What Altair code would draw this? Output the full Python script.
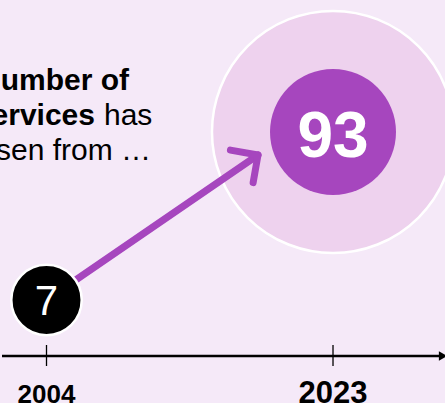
import altair as alt
import pandas as pd

# ---- data ----
years = [2004, 2023]
values = [7, 93]
value_labels = ["7", "93"]
year_labels = ["2004", "2023"]

heading_bold_1 = "The number of"
heading_bold_2 = "services"
heading_normal_2 = "has"
heading_normal_3 = "risen from \u2026"

df = pd.DataFrame({"year": years, "value": values,
                   "vlabel": value_labels, "ylabel": year_labels})
one = pd.DataFrame({"k": [0]})

BG = "#f5e9f8"
PURPLE = "#a646be"
HALO = "#eed2ee"
FONT = "Liberation Sans"
HFS = 30

xs = alt.Scale(domain=[2000.916, 2030.427], nice=False, zero=False)
ys = alt.Scale(domain=[-45.73, 160.57], nice=False, zero=False)
X = alt.X("year:Q", scale=xs, axis=None)
Y = alt.Y("value:Q", scale=ys, axis=None)

base = alt.Chart(df)
deco = alt.Chart(one)

halo = base.transform_filter("datum.year == 2023").mark_circle(
    size=58600, color=HALO, opacity=1, stroke="white", strokeWidth=2.5
).encode(x=X, y=Y)

axis_line = deco.mark_rule(color="black", strokeWidth=2.5).encode(
    x=alt.value(2), x2=alt.value(440), y=alt.value(356))
axis_head = deco.mark_point(shape="triangle-right", filled=True, color="black",
                            size=90, opacity=1).encode(
    x=alt.value(443), y=alt.value(356))

ticks = base.mark_rule(color="black", strokeWidth=1.3).encode(
    x=X, y=alt.value(345), y2=alt.value(366))

year_text = base.mark_text(font=FONT, fontWeight="bold", color="black",
                           align="center", baseline="alphabetic").encode(
    x=X, y=alt.value(402.5), text="ylabel:N",
    size=alt.Size("year:O", scale=alt.Scale(domain=[2004, 2023], range=[26, 31]),
                  legend=None))

arrow_line = base.transform_filter("datum.year == 2004").mark_rule(
    color=PURPLE, strokeWidth=7, strokeCap="round").encode(
    x=X, y=Y, x2=alt.value(258), y2=alt.value(155))
arrow_head = deco.mark_point(shape="M-1,-1L0,0L-1,1", filled=False, color=PURPLE,
                             strokeWidth=7, strokeCap="round", strokeJoin="round",
                             angle=325, size=1570, opacity=1).encode(
    x=alt.value(258), y=alt.value(155))

c7 = base.transform_filter("datum.year == 2004").mark_circle(
    size=4960, color="black", opacity=1, stroke="white", strokeWidth=2.5
).encode(x=X, y=Y)
c93 = base.transform_filter("datum.year == 2023").mark_circle(
    size=15876, color=PURPLE, opacity=1).encode(x=X, y=Y)

t7 = base.transform_filter("datum.year == 2004").mark_text(
    font=FONT, fontSize=42, color="white", align="center",
    baseline="alphabetic", dy=15).encode(x=X, y=Y, text="vlabel:N")
t93 = base.transform_filter("datum.year == 2023").mark_text(
    font=FONT, fontSize=64, fontWeight="bold", color="white", align="center",
    baseline="alphabetic", dy=25).encode(x=X, y=Y, text="vlabel:N")

h1 = deco.mark_text(font=FONT, fontSize=HFS, fontWeight="bold", color="black",
                    align="right", baseline="alphabetic", text=heading_bold_1).encode(
    x=alt.value(129), y=alt.value(90))
h2a = deco.mark_text(font=FONT, fontSize=HFS, fontWeight="bold", color="black",
                     align="right", baseline="alphabetic", text=heading_bold_2).encode(
    x=alt.value(95), y=alt.value(124.5))
h2b = deco.mark_text(font=FONT, fontSize=HFS, color="black",
                     align="left", baseline="alphabetic", text=heading_normal_2).encode(
    x=alt.value(104), y=alt.value(124.5))
h3 = deco.mark_text(font=FONT, fontSize=HFS, color="black",
                    align="right", baseline="alphabetic", text=heading_normal_3).encode(
    x=alt.value(151), y=alt.value(160))

chart = alt.layer(
    halo, axis_line, axis_head, ticks, year_text, arrow_line, arrow_head,
    c7, c93, t7, t93, h1, h2a, h2b, h3
).properties(
    width=445, height=403, autosize=alt.AutoSizeParams(type="none"),
    padding=0, background=BG
).configure_view(stroke=None)

chart.save("out.html", embed_options={"renderer": "svg", "actions": False})
